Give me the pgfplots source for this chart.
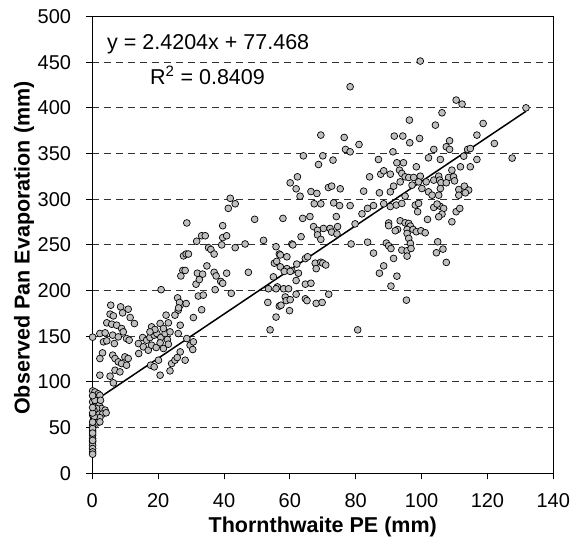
\documentclass[border=0pt]{standalone}
\usepackage{fontspec}
\setmainfont{Liberation Sans}
\usepackage{pgfplots}
\pgfplotsset{compat=1.18}
\begin{document}
\begin{tikzpicture}
\begin{axis}[
 scale only axis, width=461pt, height=456.8pt,
 xmin=0, xmax=140, ymin=0, ymax=500,
 xtick={0,20,...,140}, ytick={0,50,...,500},
 tick align=outside, tick pos=left,
 major tick length=6pt,
 every tick/.style={black, line width=1pt},
 axis line style={black, line width=1.2pt},
 ymajorgrids,
 major grid style={black!80, line width=0.9pt, dash pattern=on 7pt off 5pt},
 /pgf/number format/assume math mode=true,
 tick label style={font=\fontsize{20}{22}\selectfont},
 xticklabel style={anchor=north, inner sep=0pt, yshift=-14.4pt},
 yticklabel style={anchor=east, inner sep=0pt, xshift=-15pt},
 xlabel={Thornthwaite PE (mm)}, ylabel={Observed Pan Evaporation (mm)},
 every axis x label/.style={at={(axis description cs:0.5,-0.130)}, anchor=base, font=\bfseries\fontsize{21.5}{24}\selectfont},
 every axis y label/.style={at={(axis description cs:-0.148,0.493)}, anchor=center, rotate=90, font=\bfseries\fontsize{21.5}{24}\selectfont},
]
\coordinate (SW) at (rel axis cs:0,0);
\coordinate (NE) at (rel axis cs:1,1);
\addplot[black, line width=1.5pt] coordinates {(0,77.468) (131.7,396.24)};
\addplot[only marks, mark=*, mark size=3.4pt, mark options={fill=black!25, draw=black, line width=0.7pt}] table {
x y
0.1 90.2
0.8 89.0
1.8 87.0
0.3 83.6
1.3 82.9
2.3 85.3
0.1 78.1
1.1 76.3
0.5 72.7
2.1 74.5
2.8 70.9
3.9 69.1
0.8 67.3
1.8 65.5
0.1 63.7
3.1 64.8
4.2 66.2
1.3 59.9
2.3 60.9
0.3 58.1
1.5 55.2
0.1 52.6
0.1 46.4
0.1 41.7
0.1 38.0
0.1 34.4
0.1 30.7
0.1 27.1
0.1 23.4
0.1 20.9
0.8 79.9
2.5 79.9
1.3 70.9
0.5 69.1
2.3 56.3
0.1 49.0
0.1 44.0
0.1 36.0
0.6 62.0
0.1 56.0
0.1 66.0
0.1 72.0
0.1 85.0
5.6 184.0
8.6 182.2
10.9 179.6
5.4 174.2
6.4 172.3
9.2 175.6
11.5 170.5
4.4 164.7
5.9 163.2
7.4 162.1
12.8 163.9
8.9 158.5
9.4 154.8
2.3 153.0
3.9 153.7
6.2 151.2
7.9 149.3
3.4 143.9
4.4 145.0
6.7 142.0
10.4 147.5
11.2 145.7
3.1 131.8
2.3 125.6
6.2 129.3
6.9 125.6
7.9 122.0
8.9 120.1
9.9 127.4
10.9 125.6
10.4 118.3
2.3 107.4
5.4 106.3
6.9 112.8
8.4 111.0
6.4 99.0
0.1 149.0
14.0 142.0
15.3 148.6
16.5 145.7
17.5 148.6
18.8 151.2
19.6 153.0
20.8 148.6
22.1 153.0
22.8 146.4
23.6 154.8
14.1 131.1
15.5 138.4
17.0 134.7
18.0 140.2
19.4 137.7
20.6 142.8
21.6 136.6
23.1 141.3
17.7 118.3
18.8 116.5
20.6 107.4
20.1 123.8
24.1 120.1
25.1 123.8
23.6 112.1
25.8 126.7
26.7 132.9
28.2 123.8
28.7 147.5
26.1 153.0
26.7 162.1
29.7 140.2
30.7 143.9
30.5 135.5
22.4 173.1
23.1 164.7
20.6 164.0
18.0 160.3
19.0 157.4
17.5 154.8
21.6 158.5
26.1 178.5
25.1 173.1
26.7 184.0
28.5 185.8
30.7 170.5
28.7 274
27.7 238
28.5 240
29.2 240
27.5 222
28.2 222
26.9 216
20.9 201
25.9 192
26.5 187
26.2 181
41.9 301
43.4 295
41.3 290
49.3 278
39.6 271
31.7 254
33.2 260
34.3 260
39.6 258
40.8 260
39.3 250
35.3 247
36.0 245
37.0 240
43.4 247
46.4 251
52.0 255
55.8 248
56.8 240
55.3 230
56.0 232
34.8 227
31.9 219
33.5 218
31.5 207
32.5 212
37.0 220
37.6 216
39.0 210
39.6 208
40.8 219
47.4 220
37.3 201
42.2 197
32.2 194
33.7 195
55.0 215
56.2 204
53.5 202
55.8 202
53.3 187
56.8 183
33.2 179
55.8 171
54.0 157
78.3 423.1
69.4 370.2
76.5 367.6
81.0 359.9
76.9 354.5
78.3 351.9
64.1 347.5
70.0 347.5
73.1 342.8
68.7 338.0
86.9 343.5
62.3 324.5
60.1 317.9
61.9 311.4
63.1 303.3
66.4 308.4
68.2 306.3
71.7 312.8
72.7 314.3
75.3 311.4
82.4 308.8
87.2 307.0
87.6 327.4
88.5 331.1
84.2 324.5
67.4 295
69.4 295
73.3 296
75.1 293
78.3 293
81.9 284
83.6 290
85.4 293
88.5 295
90.5 292
57.9 279
63.9 279
66.1 281
74.1 281
67.2 270
68.4 266
70.2 268
72.2 268
72.7 264
74.5 270
74.3 262
68.4 261
69.4 256
79.8 273
63.4 259
60.6 251
60.9 250
78.6 251
83.6 253
89.3 252
90.0 249
90.0 274
90.0 271
90.7 246
85.4 241
88.5 227
87.2 219
57.1 239
59.1 237
57.1 226
59.1 224
60.6 222
62.1 229
64.7 235
65.4 237
67.7 230
68.0 224
69.4 231
70.0 230
70.9 228
62.6 219
61.9 211
64.7 207
66.4 208
58.3 221
60.1 221
58.1 202
59.6 202
58.6 193
58.9 189
60.1 190
61.9 196
57.3 184
59.9 178
64.7 191
65.2 189
68.0 186
69.8 187
71.8 196
80.6 157
99.6 451.2
110.5 408.5
112.3 404.1
106.2 394.6
96.3 386.6
104.2 381.1
118.7 382.9
91.7 369.1
94.3 369.1
96.4 361.8
99.4 366.5
116.8 370.2
122.1 361.0
108.5 364.0
107.5 357.4
108.5 354.5
103.7 354.5
114.0 354.5
114.8 355.5
91.3 351.9
112.8 347.1
102.1 345.3
105.7 343.5
116.8 343.5
92.5 339.9
94.5 339.9
98.4 335.5
93.3 331.8
94.0 328.2
111.8 335.5
114.8 335.5
109.2 331.8
90.5 327.4
95.0 324.5
96.1 323.8
97.6 323.8
99.6 325.2
103.7 320.9
105.2 325.2
105.5 320.9
108.2 323.8
109.7 324.5
93.5 319.0
97.1 315.4
99.1 319.0
101.4 319.0
105.9 318.0
107.5 318.0
110.0 320.1
111.3 310.6
113.0 314.3
114.3 309.9
91.5 314.3
90.5 308.1
95.0 303.3
100.1 311.7
102.1 308.1
103.2 304.4
105.7 311.7
105.2 304.4
111.3 304.4
113.3 307.0
92.3 293.6
94.0 295.4
98.1 293.6
99.1 295.4
103.7 291.0
105.5 292.5
106.7 289.9
104.7 294.7
98.8 286.3
106.2 283.7
105.2 280.8
110.5 286.3
111.6 289.9
109.2 275.3
101.8 277.9
93.5 276.4
95.0 274.2
96.1 273.5
96.6 270.6
92.7 266.9
92.0 265.5
95.6 266.9
97.4 266.9
95.6 262.5
98.4 264.4
99.8 265.5
101.1 263.3
96.1 257.1
96.6 251.6
94.0 244.3
95.6 243.6
96.8 246.1
95.6 237.7
91.5 235.2
104.9 253.4
106.5 245.4
104.5 241.4
107.5 230.8
92.5 215.8
90.7 204.9
95.4 189.5
131.7 400.0
127.5 345.0
};
\node[anchor=base, font=\fontsize{21.5}{24}\selectfont] at (axis cs:35.2,464) {y = 2.4204x + 77.468};
\node[anchor=base, font=\fontsize{21.5}{24}\selectfont] at (axis cs:35.0,426) {R\textsuperscript{2} = 0.8409};
\end{axis}
\pgfresetboundingbox
\useasboundingbox ([xshift=-92.3pt,yshift=-65.7pt]SW) rectangle ([xshift=17.7pt,yshift=16.5pt]NE);
\end{tikzpicture}
\end{document}
